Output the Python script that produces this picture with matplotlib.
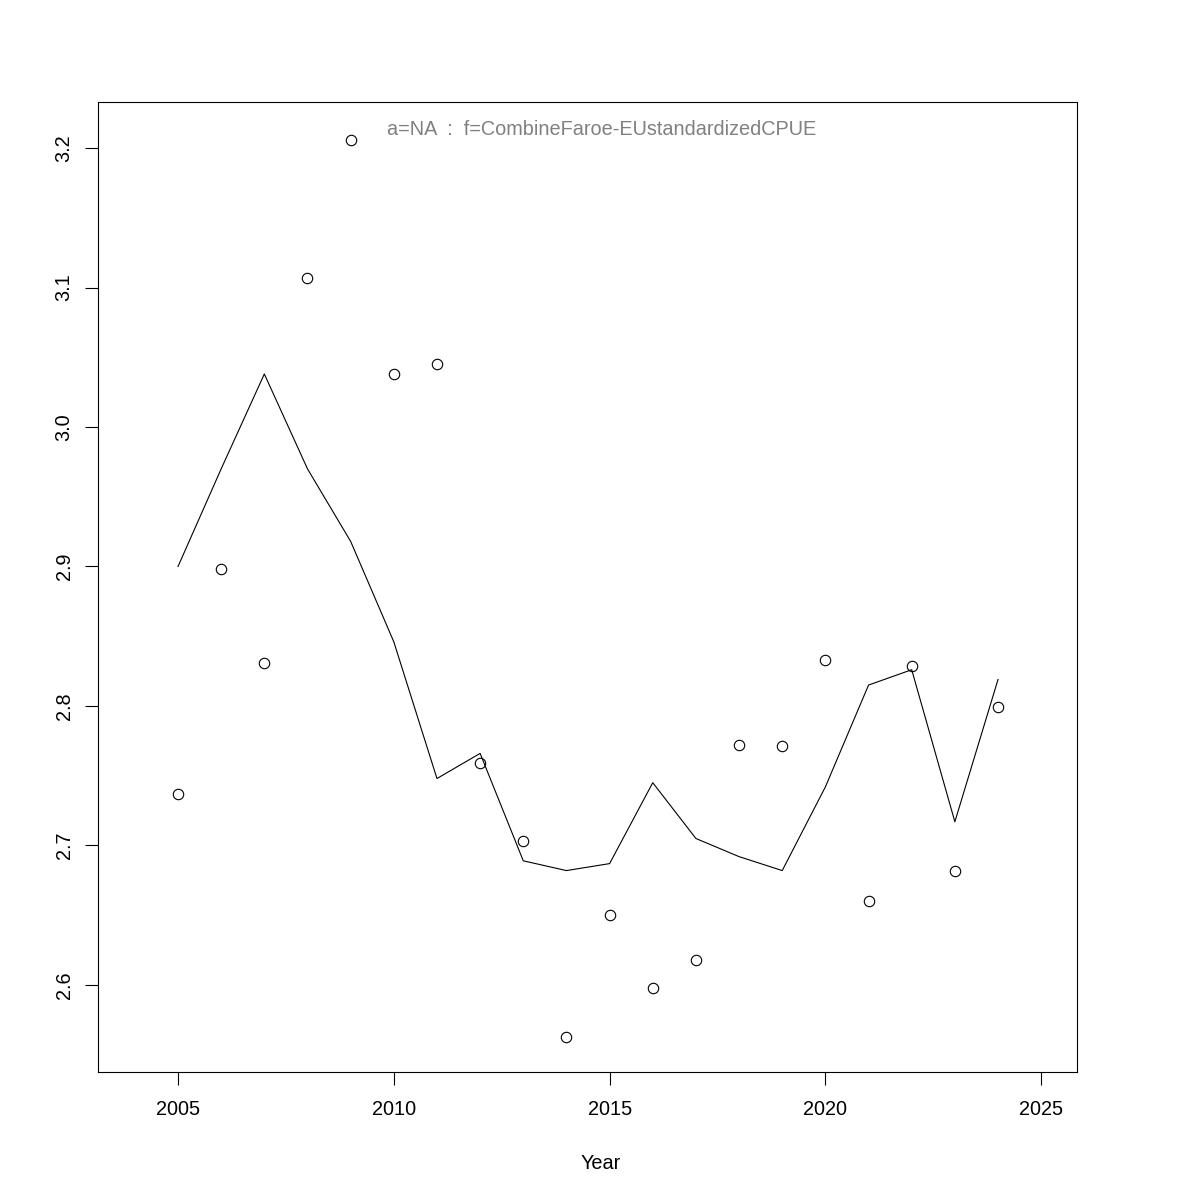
import numpy as np
import matplotlib
matplotlib.use("Agg")
import matplotlib.pyplot as plt

years = np.arange(2005, 2025)
observed = [2.737, 2.898, 2.831, 3.107, 3.206, 3.038, 3.045, 2.759, 2.703, 2.563,
            2.650, 2.598, 2.618, 2.772, 2.771, 2.833, 2.660, 2.829, 2.682, 2.799]
fitted = [2.900, 2.970, 3.038, 2.970, 2.918, 2.846, 2.748, 2.766, 2.689, 2.682,
          2.687, 2.745, 2.705, 2.692, 2.682, 2.742, 2.815, 2.826, 2.717, 2.819]
x_ticks = [2005, 2010, 2015, 2020, 2025]
y_ticks = [2.6, 2.7, 2.8, 2.9, 3.0, 3.1, 3.2]
label = "a=NA  :  f=CombineFaroe-EUstandardizedCPUE"

plt.rcParams['font.family'] = ['Liberation Sans', 'DejaVu Sans']

fig = plt.figure(figsize=(12, 12), dpi=100)
ax = fig.add_axes([98 / 1200, 128 / 1200, 979 / 1200, 970 / 1200])

ax.plot(years, observed, 'o', mfc='none', mec='black', ms=7.5, mew=0.8)
ax.plot(years, fitted, '-', color='black', lw=0.8)

ax.set_xlim(2003.146, 2025.83)
ax.set_ylim(2.5376, 3.233)

for s in ax.spines.values():
    s.set_linewidth(0.8)
ax.set_xticks(x_ticks)
ax.set_yticks(y_ticks)
ax.set_yticklabels([f"{v:.1f}" for v in y_ticks], rotation=90, va='center')
ax.tick_params(axis='both', direction='out', length=9.5, width=0.8, labelsize=14.3, pad=11)
ax.tick_params(axis='y', pad=8)
ax.set_xlabel("Year", fontsize=14.3, labelpad=22)
ax.xaxis.set_label_coords(0.513, -0.085)

ax.text(0.514, 0.972, label, transform=ax.transAxes, ha='center', va='center',
        fontsize=14.3, color='#808080')

fig.savefig("out.png", dpi=100)
